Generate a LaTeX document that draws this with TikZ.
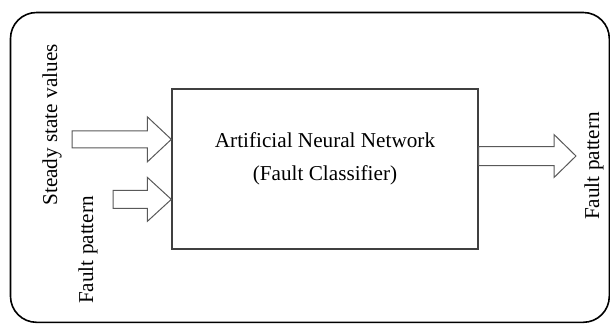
\documentclass[tikz,border=0pt]{standalone}
\usepackage{fontspec}
\setmainfont{Liberation Serif}
\usetikzlibrary{calc}

\tikzset{
  frame/.style={draw=black, line width=0.8pt, rounded corners=13pt},
  annbox/.style={draw=black!75, line width=0.65pt, minimum width=153pt, minimum height=80pt, inner sep=0pt},
  arrline/.style={draw=black!65, line width=0.5pt, fill=white},
  txt/.style={font=\fontsize{10.6}{13}\selectfont, inner sep=0pt}
}

% block arrow: tail, tip, shaft half height, head half height, head length
\newcommand{\blockarr}[5]{%
  \draw[arrline] let \p1=(#1), \p2=(#2) in
    (\x1,\y2-#3) -- (\x2-#5,\y2-#3) -- (\x2-#5,\y2-#4) -- (\x2,\y2)
    -- (\x2-#5,\y2+#4) -- (\x2-#5,\y2+#3) -- (\x1,\y2+#3) -- cycle;}

\begin{document}
\begin{tikzpicture}[x=0.5pt,y=-0.5pt]
  \useasboundingbox (0,0) rectangle (610,323);
  \draw[frame] (10.5,12.5) rectangle (609.3,322.3);

  \node[annbox] (ann) at (325,169) {};
  \node[txt] (l1) at (325,140) {Artificial Neural Network};
  \node[txt] (l2) at (325,175) {(Fault Classifier)};

  \coordinate (in1) at (72,140);
  \coordinate (in2) at (113,200);
  \coordinate (out) at (576,156);
  \coordinate (tip1) at ($(ann.north west)+(0,51)$);
  \coordinate (tip2) at ($(ann.north west)+(0,111)$);
  \coordinate (tail3) at ($(ann.north east)+(0,67)$);

  \blockarr{in1}{tip1}{4.25pt}{11.25pt}{12pt}
  \blockarr{in2}{tip2}{4.5pt}{11pt}{12pt}
  \blockarr{tail3}{out}{4.75pt}{10.75pt}{11pt}

  \node[txt, rotate=90] (steady) at (52,125) {Steady state values};
  \node[txt, rotate=90] (fpin) at (88,250) {Fault pattern};
  \node[txt, rotate=90] (fpout) at (594,166) {Fault pattern};
\end{tikzpicture}
\end{document}
